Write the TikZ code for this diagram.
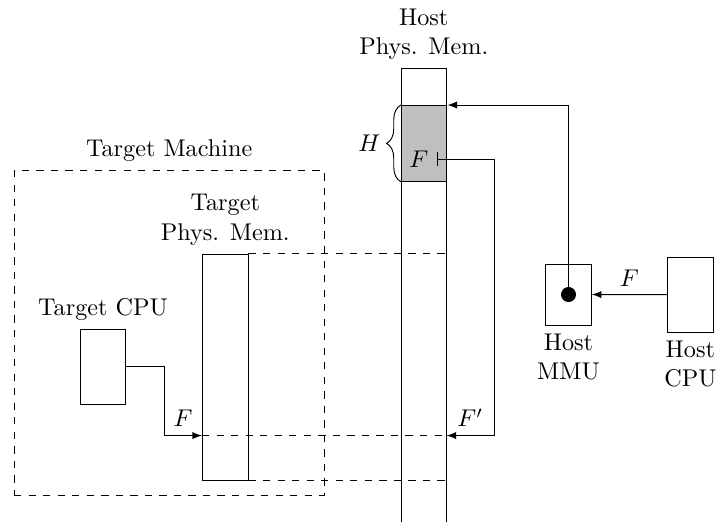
\documentclass[tikz,border=0pt]{standalone}
\usepackage{amsmath}
\usepackage{amssymb}
\usepackage{tikz}
\usetikzlibrary{decorations.pathreplacing}

\begin{document}
\begin{tikzpicture}[every text node part/.style={align=center}, every label/.style={align=center}, box/.style={draw, minimum width=0.66cm, inner sep=0pt}, link/.style={-latex}, mapping/.style={dashed}]
\useasboundingbox (0,0) rectangle (10.406,-7.562);
\node [draw, dashed, minimum width=4.504cm, minimum height=4.707cm, inner sep=0pt, label={above:Target Machine}] (tmach) at (2.456,-4.831) {};
\node [box, minimum height=1.093cm, label={above:Target CPU}] (tcpu) at (1.495,-5.322) {};
\node [box, minimum height=3.28cm, label={above:Target\\Phys. Mem.}] (tmem) at (3.269,-5.327) {};
\coordinate (hmem nw) at (5.820,-0.987);
\coordinate (hmem ne) at (6.480,-0.987);
\coordinate (hmem sw) at (5.820,-7.6);
\coordinate (hmem se) at (6.480,-7.6);
\node [box, fill=gray!50, minimum height=1.10cm, anchor=north west] (hreg) at (5.820,-1.524) {};
\draw (hmem sw) -- (hmem nw) -- node[above] (hmem label) {Host\\Phys. Mem.} (hmem ne) -- (hmem se);
\draw [decorate, decoration={brace, amplitude=6pt}] (hreg.south west) -- node[left=5pt] (hbrace) {$H$} (hreg.north west);
\node (hf) at (6.08,-2.308) {$F$};
\coordinate (hf turn) at (7.170,-2.308);
\coordinate (hfp) at (6.480,-6.321);
\draw [|-latex] (hf.east) -- (hf turn) |- node[pos=0.75, above] {$F'$} (hfp);
\node [box, minimum height=0.885cm, label={below:Host\\MMU}] (hmmu) at (8.251,-4.274) {};
\node [circle, fill, inner sep=0pt, minimum size=0.218cm] (hdot) at (hmmu) {};
\draw [link] (hdot.center) |- (hreg.north east);
\node [box, minimum height=1.084cm, label={below:Host\\CPU}] (hcpu) at (10.019,-4.276) {};
\draw [link] (hcpu) -- node[above] {$F$} (hmmu);
\coordinate (tf) at (tmem.west |- hfp);
\coordinate (tcpu turn) at (2.380,-5.322);
\draw [link] (tcpu.east) -- (tcpu turn) |- node[pos=0.75, above] {$F$} (tf);
\draw [mapping] (tf) -- (hfp);
\draw [mapping] (tmem.north east) -- (tmem.north east -| hmem ne);
\draw [mapping] (tmem.south east) -- (tmem.south east -| hmem ne);
\end{tikzpicture}
\end{document}
